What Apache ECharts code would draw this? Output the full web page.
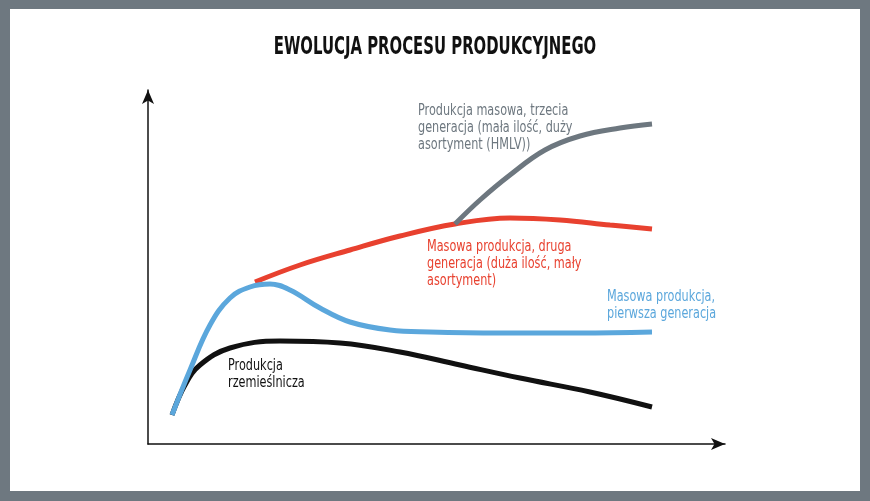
<!DOCTYPE html>
<html><head><meta charset="utf-8">
<script src="https://cdn.jsdelivr.net/npm/echarts@6/dist/echarts.min.js"></script>
<style>
html,body{margin:0;padding:0;background:#6e7880;}
#frame{position:absolute;left:10px;top:9px;width:850px;height:482px;background:#fff;}
#chart{position:absolute;left:0;top:0;width:870px;height:501px;}
</style></head>
<body><div id="frame"></div><div id="chart"></div>
<script>
// wartości (jednostki umowne)
var craft = [[24,29],[37,59],[52,79],[82,96],[132,103],[192,101],[252,92],[312,79],[372,66],[442,52],[504,37]];
var mass1 = [[24,29],[42,74],[62,119],[82,146],[102,157],[122,160],[142,154],[172,136],[202,122],[242,114],[282,112],[352,111],[432,111],[504,112]];
var mass2 = [[107,162],[152,179],[202,194],[252,208],[307,220],[362,226],[412,224],[462,219],[504,215]];
var mass3 = [[307,220],[332,244],[362,269],[397,294],[432,308],[472,316],[504,320]];

var font = '"DejaVu Sans", sans-serif';
var chart = echarts.init(document.getElementById('chart'));

function line(data, color) {
    return {type: 'line', data: data, smooth: 0.4, symbol: 'none',
        lineStyle: {color: color, width: 5, cap: 'butt'}, z: 3};
}
function label(x, y, lines, color) {
    return {type: 'text', x: x, y: y, scaleX: 0.75,
        style: {text: lines.join('\n'), fill: color, font: '15px ' + font, lineHeight: 17}};
}

chart.setOption({
    animation: false,
    grid: {left: 148, right: 145, top: 90, bottom: 57},
    xAxis: {type: 'value', min: 0, max: 577, axisLine: {symbol: ['none', 'arrow'], symbolSize: [9, 14],
        lineStyle: {color: '#111', width: 1.5}}, axisTick: {show: false}, axisLabel: {show: false}, splitLine: {show: false}},
    yAxis: {type: 'value', min: 0, max: 354, axisLine: {show: true, symbol: ['none', 'arrow'], symbolSize: [9, 14],
        lineStyle: {color: '#111', width: 1.5}}, axisTick: {show: false}, axisLabel: {show: false}, splitLine: {show: false}},
    series: [line(craft, '#111'), line(mass2, '#e8412f'), line(mass3, '#6d777f'), line(mass1, '#5ba7dc')],
    graphic: [
        {type: 'text', x: 435, y: 36, scaleX: 0.62,
            style: {text: 'EWOLUCJA PROCESU PRODUKCYJNEGO', fill: '#111', align: 'center',
                font: 'bold 24px ' + font}},
        label(418, 103, ['Produkcja masowa, trzecia', 'generacja (mała ilość, duży', 'asortyment (HMLV))'], '#6d777f'),
        label(427, 239, ['Masowa produkcja, druga', 'generacja (duża ilość, mały', 'asortyment)'], '#e8412f'),
        label(607, 289, ['Masowa produkcja,', 'pierwsza generacja'], '#5ba7dc'),
        label(228, 358, ['Produkcja', 'rzemieślnicza'], '#111')
    ]
});
</script></body></html>
